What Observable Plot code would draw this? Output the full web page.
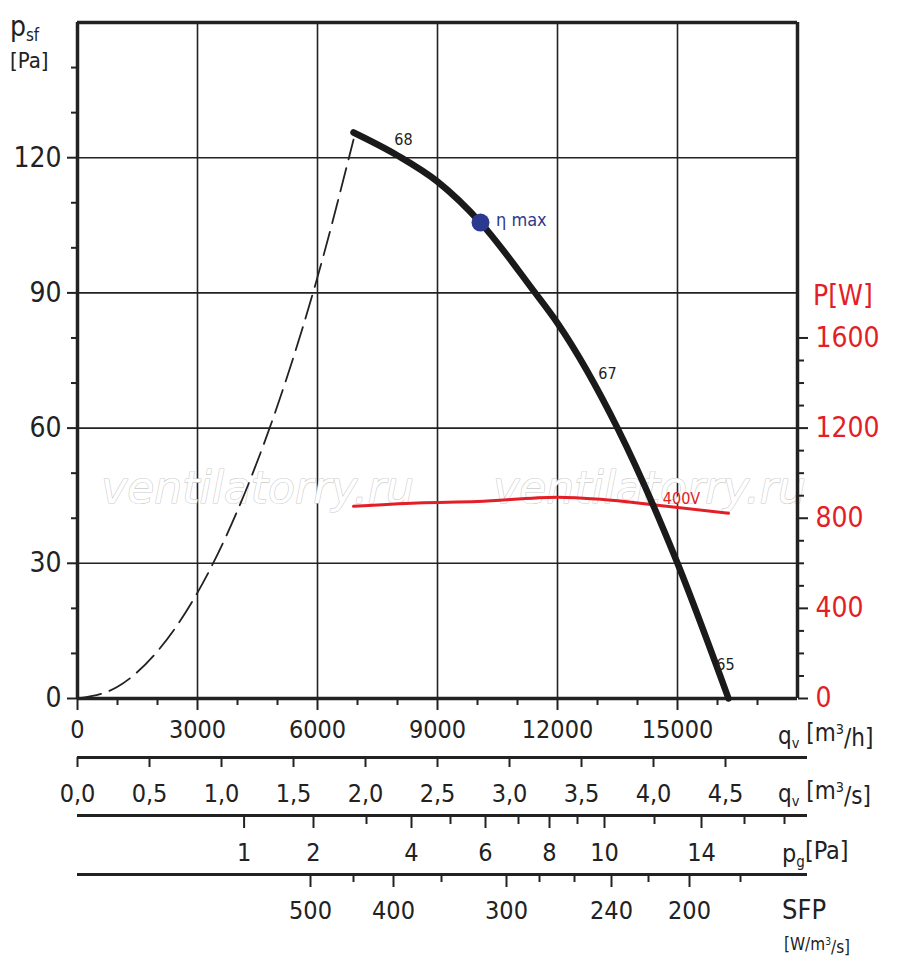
<!DOCTYPE html>
<html><head><meta charset="utf-8">
<script src="https://cdn.jsdelivr.net/npm/d3@7"></script>
<script src="https://cdn.jsdelivr.net/npm/@observablehq/plot@0.6"></script>
<style>body{margin:0;background:#fff}</style>
</head><body><div id="chart"></div>
<script>
// Data
const mainCurve = [[6900,125.6],[8000,120.5],[9000,114.7],[10075,105.6],[11400,90.5],[12000,83.3],[13500,60],[15000,30],[16275,0]];
const dashCurve = [[0,0],[1000,2.6],[2000,10.5],[3000,23.5],[4000,41.7],[5000,65],[6000,93.5],[6900,124]];
const powerCurve = [[6900,853],[8500,868],[10000,874],[12000,893],[13075,884],[14500,858],[16275,822]];
const etaMax = [[10075,105.6]];
const qhTicks = [0,3000,6000,9000,12000,15000];
const qhMinor = [1000,2000,4000,5000,7000,8000,10000,11000,13000,14000,16000,17000];
const psfTicks = [0,30,60,90,120];
const psfMinor = [10,20,40,50,70,80,100,110,130,140];
const pTicks = [0,400,800,1200,1600];
const pMinor = [100,200,300,500,600,700,900,1000,1100,1300,1400,1500];
const qsTicks = [0,0.5,1.0,1.5,2.0,2.5,3.0,3.5,4.0,4.5];
const pgLabels = ["1","2","4","6","8","10","14"];
const pgLabelQ = [4165,5900,8350,10200,11800,13175,15600];
const pgMinorQ = [7225,9325,11025,12500,14425,16675,17675];
const sfpLabels = ["500","400","300","240","200"];
const sfpLabelQ = [5825,7900,10725,13350,15300];
const sfpMinorQ = [6900,9100,11550,12425,14275,16575];
const curveLabels = [{x:8150,y:124,t:"68"},{x:13250,y:72,t:"67"},{x:16200,y:7.5,t:"65"}];

const FONT = "'DejaVu Sans Condensed','Liberation Sans Narrow',sans-serif";
const W2PA = 20; // 400 W per 20 Pa on the chart
const Y = px => (698 - px) * 150 / 676; // pixel row -> pressure units (rows below the frame)

const red = "#e41e26";
const pwr = powerCurve.map(([q,p]) => [q, p / W2PA]);

const chart = Plot.plot({
  width: 900, height: 970,
  marginLeft: 77, marginRight: 103, marginTop: 22, marginBottom: 272,
  style: {fontFamily: FONT, fontSize: "24px", color: "#222", overflow: "visible"},
  x: {domain: [0, 18000]},
  y: {domain: [0, 150]},
  marks: [
    Plot.ruleX([3000,6000,9000,12000,15000], {y1: 0, y2: 150, stroke: "#222", strokeWidth: 1.6}),
    Plot.ruleY([30,60,90,120], {x1: 0, x2: 18000, stroke: "#222", strokeWidth: 1.6}),
    Plot.text(["ventilatorry.ru","ventilatorry.ru"], {x: [4500,14300], y: [Y(488),Y(488)], text: d => d, fontSize: 44, fontStyle: "italic", fill: "#fff", stroke: "#ccc", strokeWidth: 1.2, fontFamily: "'DejaVu Sans',sans-serif"}),
    Plot.ruleY([0,150], {x1: 0, x2: 18000, stroke: "#222", strokeWidth: 3.5}),
    Plot.ruleX([0,18000], {y1: 0, y2: 150, stroke: "#222", strokeWidth: 3.5}),
    Plot.axisY(psfTicks, {anchor: "left", label: null, tickSize: 10, tickPadding: 6, fontSize: 28, tickFormat: d => String(d), strokeWidth: 2}),
    Plot.axisY(psfMinor, {anchor: "left", label: null, tickSize: 6, text: null, strokeWidth: 2}),
    Plot.axisY(pTicks.map(p => p / W2PA), {anchor: "right", label: null, tickSize: 10, tickPadding: 8, fontSize: 28, fill: red, tickFormat: d => String(Math.round(d * W2PA)), strokeWidth: 2}),
    Plot.axisY(pMinor.map(p => p / W2PA), {anchor: "right", label: null, tickSize: 6, text: null, strokeWidth: 2}),
    Plot.axisX(qhTicks, {anchor: "bottom", label: null, tickSize: 12, tickPadding: 10, fontSize: 25, tickFormat: d => String(d), strokeWidth: 2}),
    Plot.axisX(qhMinor, {anchor: "bottom", label: null, tickSize: 7, text: null, strokeWidth: 2}),
    Plot.ruleY([Y(757)], {x1: 0, x2: 18250, stroke: "#222", strokeWidth: 3}),
    Plot.ruleX(qsTicks, {x: d => d * 3600, y1: Y(757), y2: Y(767), stroke: "#222", strokeWidth: 2}),
    Plot.text(qsTicks, {x: d => d * 3600, y: Y(793), text: d => d.toFixed(1).replace(".", ","), fontSize: 25}),
    Plot.ruleY([Y(815)], {x1: 0, x2: 18250, stroke: "#222", strokeWidth: 3}),
    Plot.ruleX(pgLabelQ, {y1: Y(815), y2: Y(828), stroke: "#222", strokeWidth: 2}),
    Plot.ruleX(pgMinorQ, {y1: Y(815), y2: Y(824), stroke: "#222", strokeWidth: 2}),
    Plot.text(pgLabels, {x: (d,i) => pgLabelQ[i], y: Y(852), text: d => d, fontSize: 25}),
    Plot.ruleY([Y(874)], {x1: 0, x2: 18250, stroke: "#222", strokeWidth: 3}),
    Plot.ruleX(sfpLabelQ, {y1: Y(874), y2: Y(887), stroke: "#222", strokeWidth: 2}),
    Plot.ruleX(sfpMinorQ, {y1: Y(874), y2: Y(882), stroke: "#222", strokeWidth: 2}),
    Plot.text(sfpLabels, {x: (d,i) => sfpLabelQ[i], y: Y(910), text: d => d, fontSize: 25}),
    Plot.line(dashCurve, {x: d => d[0], y: d => d[1], curve: "monotone-x", stroke: "#222", strokeWidth: 1.8, strokeDasharray: "24,9"}),
    Plot.line(pwr, {x: d => d[0], y: d => d[1], curve: "monotone-x", stroke: red, strokeWidth: 3}),
    Plot.line(mainCurve, {x: d => d[0], y: d => d[1], curve: "monotone-x", stroke: "#1a1a1a", strokeWidth: 6.5, strokeLinecap: "round"}),
    Plot.dot(etaMax, {x: d => d[0], y: d => d[1], r: 9, fill: "#2b3990"}),
    Plot.text(curveLabels, {x: "x", y: "y", text: "t", fontSize: 16, fill: "#222"}),
    Plot.text(["400V"], {x: [15100], y: [Y(498)], text: d => d, fontSize: 16, fill: red}),
  ]
});
document.getElementById("chart").appendChild(chart);

const svg = d3.select(chart);
const lab = (x, y, parts, opts = {}) => {
  const t = svg.append("text").attr("x", x).attr("y", y).attr("font-family", FONT)
    .attr("font-size", opts.size || 26).attr("fill", opts.fill || "#222").attr("text-anchor", opts.anchor || "start");
  parts.forEach(([s, kind]) => {
    const ts = t.append("tspan").text(s);
    if (kind === "sub") ts.attr("font-size", "0.6em").attr("dy", "0.3em");
    if (kind === "sup") ts.attr("font-size", "0.6em").attr("dy", "-0.5em");
    if (kind === "back") ts.attr("dy", "-0.3em");
    if (kind === "backsup") ts.attr("dy", "0.5em");
  });
};
lab(10, 36, [["p"],["sf","sub"]], {size: 28});
lab(10, 68, [["[Pa]"]], {size: 22});
lab(813, 305, [["P"],["[W]"]], {size: 28, fill: red});
lab(778, 744, [["q"],["v","sub"],[" [m","back"],["3","sup"],["/h]","backsup"]], {size: 24});
lab(778, 802, [["q"],["v","sub"],[" [m","back"],["3","sup"],["/s]","backsup"]], {size: 24});
lab(782, 862, [["p"],["g","sub"],["[Pa]","back"]], {size: 25});
lab(782, 919, [["SFP"]], {size: 27});
lab(784, 950, [["[W/m"],["3","sup"],["/s]","backsup"]], {size: 17});
lab(496, 226, [["η "],["max"]], {size: 18, fill: "#2b3990"});
</script>
</body></html>
